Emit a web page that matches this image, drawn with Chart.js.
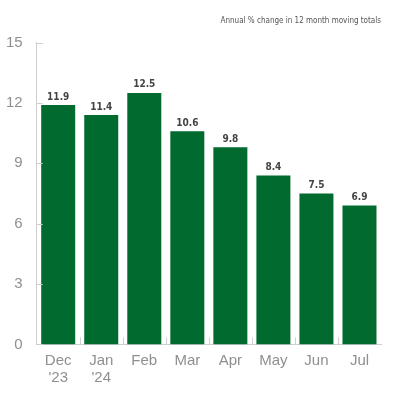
<!DOCTYPE html>
<html>
<head>
<meta charset="utf-8">
<script src="https://cdn.jsdelivr.net/npm/chart.js@4"></script>
<style>
  html, body { margin: 0; padding: 0; background: #fff; }
  #wrap { width: 400px; height: 400px; position: relative; }
</style>
</head>
<body>
<div id="wrap"><canvas id="chart"></canvas></div>
<script>
const months = [["Dec", "'23"], ["Jan", "'24"], "Feb", "Mar", "Apr", "May", "Jun", "Jul"];
const changes = [11.9, 11.4, 12.5, 10.6, 9.8, 8.4, 7.5, 6.9];
const yTicks = [0, 3, 6, 9, 12, 15];
const titleText = "Annual % change in 12 month moving totals";

const barGreen = "#006a2f";
const axisGrey = "#cfcfcf";
const labelGrey = "#8f8f8f";

// value labels above the bars
const valueLabels = {
  id: "valueLabels",
  afterDatasetsDraw(chart) {
    const ctx = chart.ctx;
    const meta = chart.getDatasetMeta(0);
    ctx.save();
    ctx.font = "bold 10px 'DejaVu Sans Condensed', sans-serif";
    ctx.fillStyle = "#444";
    ctx.textAlign = "center";
    ctx.textBaseline = "bottom";
    meta.data.forEach((bar, i) => {
      ctx.fillText(changes[i].toFixed(1), bar.x, bar.y - 3);
    });
    ctx.restore();
  }
};

// small inward ticks on both axes
const axisTicks = {
  id: "axisTicks",
  afterDraw(chart) {
    const ctx = chart.ctx;
    const x = chart.scales.x, y = chart.scales.y;
    const area = chart.chartArea;
    ctx.save();
    ctx.strokeStyle = axisGrey;
    ctx.lineWidth = 1;
    ctx.beginPath();
    yTicks.forEach(v => {
      const py = Math.round(y.getPixelForValue(v)) + 0.5;
      ctx.moveTo(area.left, py);
      ctx.lineTo(area.left + 6, py);
    });
    for (let i = 1; i < months.length; i++) {
      const px = Math.round((x.getPixelForValue(i - 1) + x.getPixelForValue(i)) / 2) + 0.5;
      ctx.moveTo(px, area.bottom);
      ctx.lineTo(px, area.bottom - 7);
    }
    ctx.stroke();
    ctx.restore();
  }
};

new Chart(document.getElementById("chart"), {
  type: "bar",
  data: {
    labels: months,
    datasets: [{
      data: changes,
      backgroundColor: barGreen,
      barPercentage: 0.79,
      categoryPercentage: 1.0
    }]
  },
  options: {
    responsive: true,
    maintainAspectRatio: false,
    animation: false,
    layout: { padding: { top: 0, right: 19, left: 0, bottom: 14 } },
    plugins: {
      legend: { display: false },
      tooltip: { enabled: false },
      title: {
        display: true,
        text: titleText,
        align: "end",
        color: "#555",
        font: { family: "'DejaVu Sans Condensed', sans-serif", size: 8, weight: "normal" },
        padding: { top: 16, bottom: 17 }
      }
    },
    scales: {
      x: {
        grid: { display: false },
        border: { color: axisGrey },
        ticks: {
          color: labelGrey,
          font: { family: "'Liberation Sans', sans-serif", size: 15, lineHeight: 1.12 },
          padding: 0,
          maxRotation: 0,
          autoSkip: false
        }
      },
      y: {
        min: 0,
        max: 15,
        afterBuildTicks(scale) { scale.ticks = yTicks.map(v => ({ value: v })); },
        grid: { display: false },
        border: { color: axisGrey },
        ticks: {
          color: labelGrey,
          font: { family: "'Liberation Sans', sans-serif", size: 15 },
          padding: 6
        }
      }
    }
  },
  plugins: [valueLabels, axisTicks]
});
</script>
</body>
</html>
